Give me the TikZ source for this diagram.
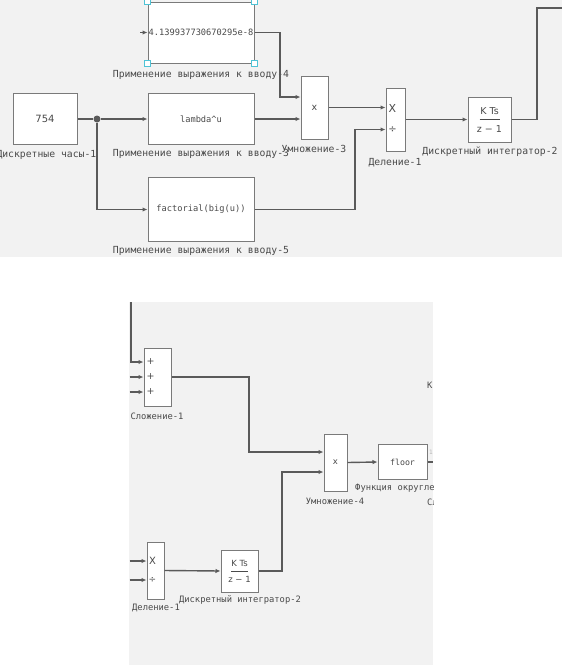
\documentclass[tikz,border=0pt]{standalone}
\usepackage{fontspec}
\setmainfont{DejaVu Sans}
\setsansfont{DejaVu Sans}
\setmonofont{DejaVu Sans Mono}
\usetikzlibrary{arrows.meta}
\definecolor{bg}{HTML}{F2F2F2}
\definecolor{ln}{HTML}{5A5A5A}
\definecolor{bd}{HTML}{7A7A7A}
\definecolor{tx}{HTML}{4A4A4A}
\definecolor{hd}{HTML}{4FC3D6}
\begin{document}
\begin{tikzpicture}[x=1pt,y=-1pt,
 blk/.style={draw=bd,fill=white,line width=1pt,inner sep=0pt,rectangle,text=tx},
 lbl/.style={text=tx,font=\fontsize{9.75}{10}\ttfamily,inner sep=0pt},
 lbls/.style={text=tx,font=\fontsize{8.8}{9}\ttfamily,inner sep=0pt},
 btxt/.style={font=\fontsize{8.7}{9}\ttfamily},
 stxt/.style={text=tx,inner sep=0pt,font=\fontsize{9.5}{10}\sffamily},
 wire/.style={draw=ln,line width=1.4pt},
 arr/.style={wire,-{Latex[length=5pt,width=4.5pt]}},
 handle/.style={draw=hd,fill=white,line width=1pt,minimum size=5.5pt,inner sep=0pt},
]
\useasboundingbox (0,0) rectangle (562,667);
\fill[bg] (0,0) rectangle (562,257);
\fill[bg] (129,302) rectangle (433,665);

% ---------- top panel ----------
\node[blk,minimum width=106pt,minimum height=61pt,btxt] (expr4) at (201,32.5) {4.139937730670295e-8};
\node[handle] (h1) at (expr4.north west) {};
\node[handle] (h2) at (expr4.north east) {};
\node[handle] (h3) at (expr4.south west) {};
\node[handle] (h4) at (expr4.south east) {};
\coordinate (in4) at (140,32.5);
\draw[arr] (in4) -- (expr4.west);
\node[lbl] (lexpr4) at (201,75) {Применение выражения к вводу-4};

\node[blk,minimum width=64pt,minimum height=51pt,font=\fontsize{10}{11}\sffamily] (clock) at (45,119) {754};
\node[lbl,anchor=east] (lclock) at (96.5,155) {Дискретные часы-1};

\node[blk,minimum width=106pt,minimum height=51pt,btxt] (lam) at (201,119) {lambda\char`\^u};
\node[lbl] (llam) at (201,154) {Применение выражения к вводу-3};

\node[blk,minimum width=106pt,minimum height=64pt,btxt] (fact) at (201,209.5) {factorial(big(u))};
\node[lbl] (lfact) at (201,251) {Применение выражения к вводу-5};

\node[blk,minimum width=27pt,minimum height=63pt,font=\fontsize{9.5}{10}\sffamily] (mul3) at (314.5,107.5) {x};
\node[lbl] (lmul3) at (314,149) {Умножение-3};

\node[blk,minimum width=19pt,minimum height=63pt] (div1) at (395.5,119.5) {};
\node[stxt,font=\fontsize{11}{12}\sffamily] (d1x) at (392.5,108) {X};
\node[stxt,font=\fontsize{10}{12}\sffamily] (d1d) at (392.5,129.5) {÷};
\node[lbl] (ldiv1) at (395,163) {Деление-1};

\node[blk,minimum width=43pt,minimum height=45pt] (int2) at (489.5,119.5) {};
\node[stxt] (i2n) at (489.5,111) {K Ts};
\node[stxt] (i2d) at (489.5,129) {z − 1};
\draw[tx,line width=0.9pt] (479.5,119.5) -- (499.5,119.5);
\node[lbl] (lint2) at (490,152) {Дискретный интегратор-2};

\node[circle,fill=ln,minimum size=7pt,inner sep=0pt] (dot) at (97,119) {};

\coordinate (b1) at (280,32.5);
\coordinate (b2) at (280,97);
\coordinate (b3) at (355,129.5);
\coordinate (b4) at (537,119.5);
\coordinate (b5) at (537,8);
\coordinate (out1) at (562,8);

\draw[wire] (clock.east) -- (dot);
\draw[arr] (dot) -- (lam.west);
\draw[arr] (dot) |- (fact.west);
\draw[arr] (expr4.east) -- (b1) -- (b2) -- (mul3.west |- b2);
\draw[arr] (lam.east) -- (mul3.west |- lam.east);
\draw[arr] (mul3.east) -- (div1.west |- mul3.east);
\draw[arr] (fact.east) -| (b3) -- (div1.west |- b3);
\draw[arr] (div1.east) -- (int2.west);
\draw[wire] (int2.east) -- (b4) -- (b5) -- (out1);

% ---------- bottom panel ----------
\node[blk,minimum width=27pt,minimum height=58pt] (sum) at (157.5,377) {};
\node[stxt,font=\fontsize{9.5}{12}\sffamily] (p1) at (150.5,362) {+};
\node[stxt,font=\fontsize{9.5}{12}\sffamily] (p2) at (150.5,377) {+};
\node[stxt,font=\fontsize{9.5}{12}\sffamily] (p3) at (150.5,392) {+};
\node[lbls] (lsum) at (157,416) {Сложение-1};

\node[blk,minimum width=23pt,minimum height=57pt,font=\fontsize{8.5}{9}\sffamily] (mul4) at (335.5,462.5) {x};
\node[lbls] (lmul4) at (335,501) {Умножение-4};

\node[blk,minimum width=49pt,minimum height=35pt,font=\fontsize{8.3}{9}\ttfamily] (floor) at (402.5,462) {floor};

\node[blk,minimum width=17pt,minimum height=57pt] (div1b) at (155.5,570.5) {};
\node[stxt,font=\fontsize{10}{12}\sffamily] (dbx) at (152.5,561) {X};
\node[stxt,font=\fontsize{9}{11}\sffamily] (dbd) at (152.5,580) {÷};
\node[lbls] (ldiv1b) at (156,608) {Деление-1};

\node[blk,minimum width=37pt,minimum height=42pt] (int2b) at (239.5,571) {};
\node[stxt,font=\fontsize{8.5}{9}\sffamily] (ibn) at (239.5,563.5) {K Ts};
\node[stxt,font=\fontsize{8.5}{9}\sffamily] (ibd) at (239.5,579.5) {z − 1};
\draw[tx,line width=0.8pt] (231,571) -- (248,571);
\node[lbls] (lint2b) at (240,600) {Дискретный интегратор-2};

\coordinate (t0) at (131,302);
\coordinate (t1) at (131,362);
\coordinate (s2) at (129.5,377);
\coordinate (s3) at (129.5,392);
\coordinate (c1) at (249,377);
\coordinate (c2) at (249,452);
\coordinate (c3) at (282,571);
\coordinate (c4) at (282,472);
\coordinate (d1) at (129.5,561);
\coordinate (d2) at (129.5,580);
\coordinate (fo) at (433,462);

\draw[arr] (t0) -- (t1) -- (sum.west |- t1);
\draw[arr] (s2) -- (sum.west |- s2);
\draw[arr] (s3) -- (sum.west |- s3);
\draw[arr] (sum.east) -- (c1) -- (c2) -- (mul4.west |- c2);
\draw[arr] (mul4.east) -- (floor.west);
\draw[wire] (floor.east) -- (fo);
\draw[arr] (d1) -- (div1b.west |- d1);
\draw[arr] (d2) -- (div1b.west |- d2);
\draw[arr] (div1b.east) -- (int2b.west);
\draw[arr] (int2b.east) -- (c3) -- (c4) -- (mul4.west |- c4);

\begin{scope}
\clip (129,302) rectangle (433,665);
\node[lbls,anchor=west] (lfloor) at (355,488) {Функция округления};
\node[lbls,anchor=west] (lfloor2) at (427,502) {Сл};
\node[lbls,anchor=west] (kk) at (427,385) {К};
\node[lbls,anchor=west,text=tx!40,font=\fontsize{6}{7}\ttfamily] (one) at (429,452) {1};
\end{scope}
\end{tikzpicture}
\end{document}
